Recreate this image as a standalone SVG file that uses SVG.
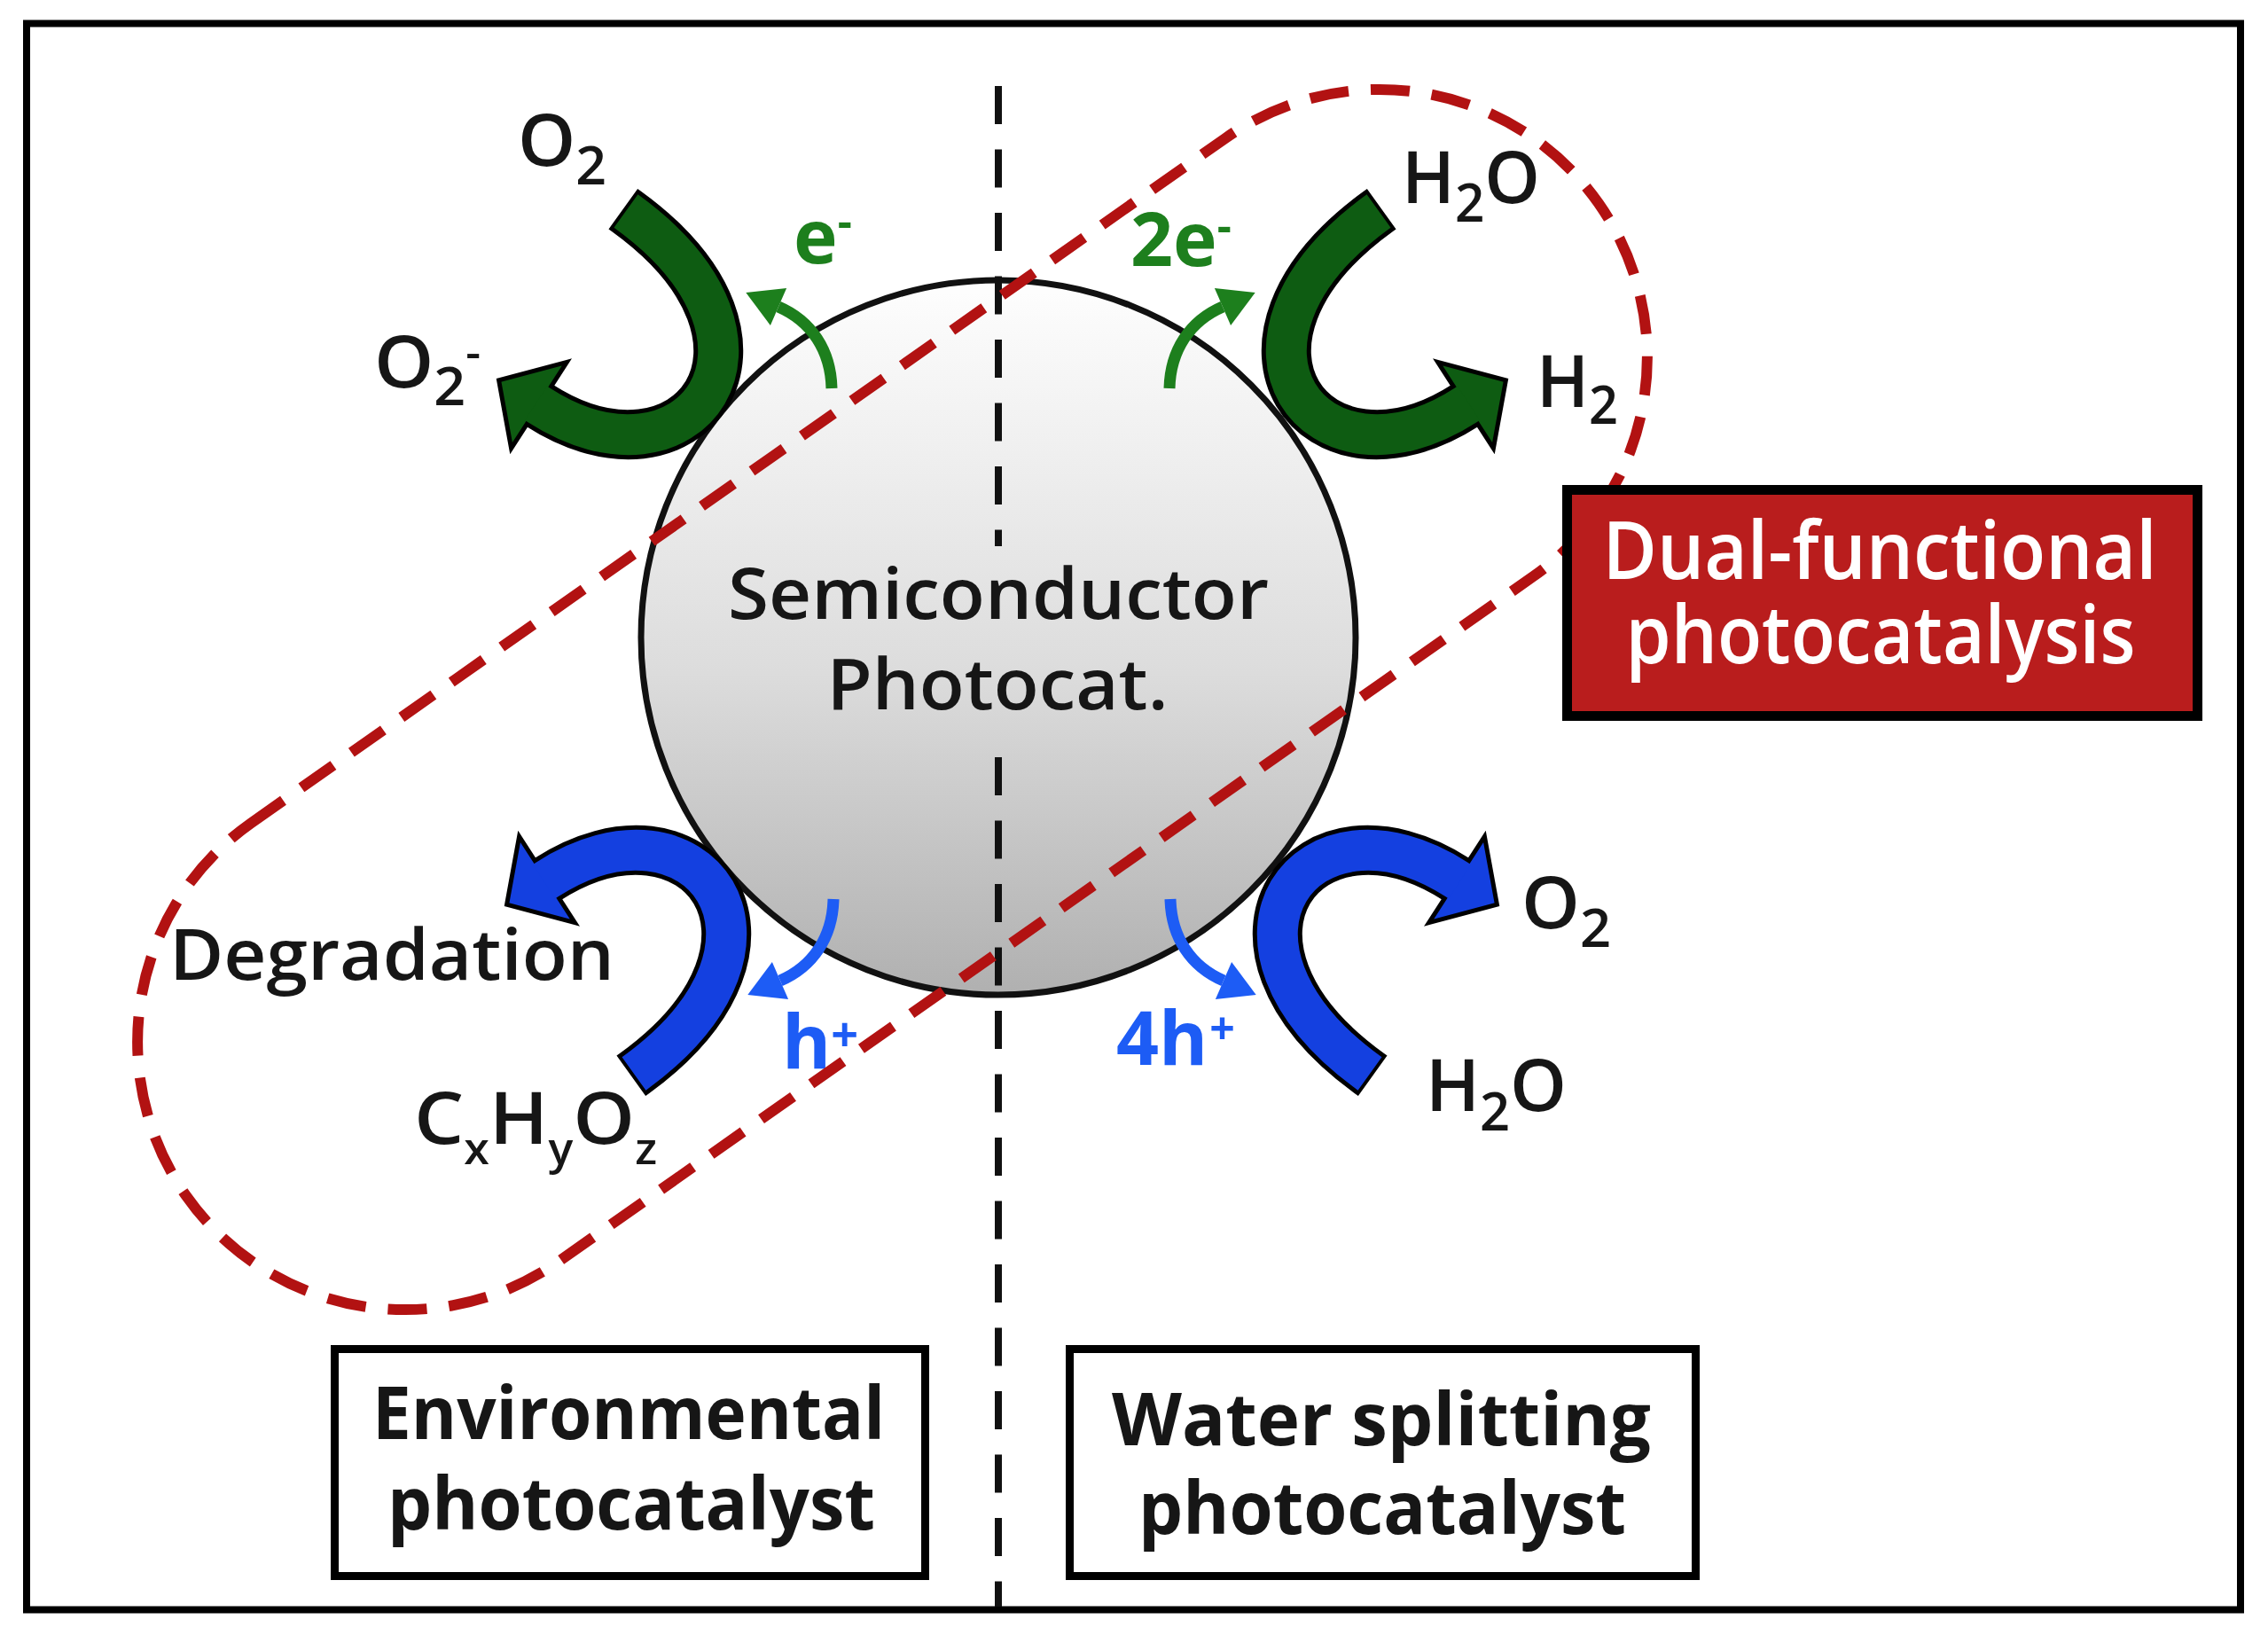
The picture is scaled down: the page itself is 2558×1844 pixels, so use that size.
<svg xmlns="http://www.w3.org/2000/svg" width="2558" height="1844" viewBox="0 0 2558 1844">
<style>
.t{font-family:"Open Sans","Noto Sans","Liberation Sans",sans-serif;fill:#161616}
.chem{font-weight:600;font-size:82px}
.sb{font-weight:600}
.bd{font-weight:700}
.eg{fill:#1d7f1d;font-weight:700;font-size:84px}
.hb{fill:#1d5cf5;font-weight:700;font-size:84px}
.box{fill:#fff;stroke:#000;stroke-width:9}
</style>
<defs>
<linearGradient id="sphere" x1="0" y1="0" x2="0" y2="1">
<stop offset="0" stop-color="#fefefe"/>
<stop offset="0.55" stop-color="#dcdcdc"/>
<stop offset="1" stop-color="#b0b0b0"/>
</linearGradient>
<g id="bigArrow">
<path d="M702.8,235.7 L706,238 C912.6,387.2 776,565 608,457" fill="none" stroke="#000" stroke-width="56"/>
<polygon points="639.4,408.3 562.6,428.9 576.6,505.7" fill="currentColor" stroke="#000" stroke-width="5"/>
<path d="M706,238 C912.6,387.2 776,565 608,457 L604.6,454.8" fill="none" stroke="currentColor" stroke-width="46"/>
</g>
<g id="smallArrow">
<path d="M938,438 C937,395 915,362 878,346" fill="none" stroke="currentColor" stroke-width="13"/>
<polygon points="887.1,324.9 841.3,330.1 868.9,367.1" fill="currentColor"/>
</g>
</defs>
<rect x="0" y="0" width="2558" height="1844" fill="#fff"/>
<rect id="frame" x="30" y="26.5" width="2497" height="1789" fill="none" stroke="#000" stroke-width="8"/>

<g id="semiconductor">
<circle cx="1126" cy="719" r="403" fill="url(#sphere)" stroke="#111" stroke-width="7"/>
</g>

<g id="divider" stroke="#111" stroke-width="8" stroke-dasharray="43 28.5">
<line x1="1126" y1="97" x2="1126" y2="616"/>
<line x1="1126" y1="854" x2="1126" y2="1812"/>
</g>

<g id="semiconductor-label">
<text class="t sb" font-size="80" x="1126" y="698" text-anchor="middle" textLength="610" lengthAdjust="spacingAndGlyphs">Semiconductor</text>
<text class="t sb" font-size="80" x="1125" y="800" text-anchor="middle" textLength="385" lengthAdjust="spacingAndGlyphs">Photocat.</text>
</g>

<g id="connectors">
<use href="#bigArrow" color="#0e5c12"/>
<use href="#bigArrow" color="#0e5c12" transform="translate(2261,0) scale(-1,1)"/>
<use href="#bigArrow" color="#1440e0" transform="translate(9,1449) scale(1,-1)"/>
<use href="#bigArrow" color="#1440e0" transform="translate(2251,1449) scale(-1,-1)"/>
<use href="#smallArrow" color="#1d7f1d"/>
<use href="#smallArrow" color="#1d7f1d" transform="translate(2257,0) scale(-1,1)"/>
<use href="#smallArrow" color="#1d5cf5" transform="translate(2,1452) scale(1,-1)"/>
<use href="#smallArrow" color="#1d5cf5" transform="translate(2258,1452) scale(-1,-1)"/>
</g>

<g id="label-o2-top">
<text class="t chem" x="584" y="187" textLength="100" lengthAdjust="spacingAndGlyphs">O<tspan font-size="60" dy="21">2</tspan></text>
</g>
<g id="label-o2-radical">
<text class="t chem" x="422" y="437" textLength="120" lengthAdjust="spacingAndGlyphs">O<tspan font-size="60" dy="20">2</tspan><tspan font-size="50" dy="-42">-</tspan></text>
</g>
<g id="label-h2o-top">
<text class="t chem" x="1581" y="229" textLength="156" lengthAdjust="spacingAndGlyphs">H<tspan font-size="60" dy="21">2</tspan><tspan dy="-21">O</tspan></text>
</g>
<g id="label-h2">
<text class="t chem" x="1733" y="459" textLength="92" lengthAdjust="spacingAndGlyphs">H<tspan font-size="60" dy="19">2</tspan></text>
</g>
<g id="label-degradation">
<text class="t sb" font-size="80" x="191" y="1105" textLength="502" lengthAdjust="spacingAndGlyphs">Degradation</text>
</g>
<g id="label-cxhyoz">
<text class="t chem" x="467" y="1290" textLength="274" lengthAdjust="spacingAndGlyphs">C<tspan font-size="48" dy="23">x</tspan><tspan dy="-23">H</tspan><tspan font-size="48" dy="23">y</tspan><tspan dy="-23">O</tspan><tspan font-size="48" dy="23">z</tspan></text>
</g>
<g id="label-o2-bottom">
<text class="t chem" x="1716" y="1047" textLength="101" lengthAdjust="spacingAndGlyphs">O<tspan font-size="60" dy="21">2</tspan></text>
</g>
<g id="label-h2o-bottom">
<text class="t chem" x="1608" y="1253" textLength="159" lengthAdjust="spacingAndGlyphs">H<tspan font-size="60" dy="22">2</tspan><tspan dy="-22">O</tspan></text>
</g>
<g id="label-e">
<text class="t eg" x="895" y="297">e<tspan font-size="50" dy="-30">-</tspan></text>
</g>
<g id="label-2e">
<text class="t eg" x="1275" y="300">2e<tspan font-size="50" dy="-28">-</tspan></text>
</g>
<g id="label-h">
<text class="t hb" x="882" y="1205">h<tspan font-size="54" dy="-19">+</tspan></text>
</g>
<g id="label-4h">
<text class="t hb" x="1259" y="1201">4h<tspan font-size="50" dx="2" dy="-23">+</tspan></text>
</g>

<g id="dual-functional-region">
<rect x="33" y="487" width="1947" height="604" rx="302" ry="302" transform="rotate(-35.1 1006.5 789)" fill="none" stroke="#b21212" stroke-width="12" stroke-dasharray="44 25"/>
</g>

<g id="dual-functional-box">
<rect x="1767.5" y="552.5" width="711" height="255" fill="#b91d1d" stroke="#000" stroke-width="11"/>
<text class="t sb" font-size="90" x="2120" y="653" text-anchor="middle" textLength="625" lengthAdjust="spacingAndGlyphs" style="fill:#fff">Dual-functional</text>
<text class="t sb" font-size="90" x="2121" y="748" text-anchor="middle" textLength="575" lengthAdjust="spacingAndGlyphs" style="fill:#fff">photocatalysis</text>
</g>

<g id="environmental-box">
<rect class="box" x="377.5" y="1521.5" width="666" height="256"/>
<text class="t bd" font-size="82" x="709" y="1623" text-anchor="middle" textLength="578" lengthAdjust="spacingAndGlyphs">Environmental</text>
<text class="t bd" font-size="82" x="712" y="1725" text-anchor="middle" textLength="550" lengthAdjust="spacingAndGlyphs">photocatalyst</text>
</g>

<g id="water-splitting-box">
<rect class="box" x="1206.5" y="1521.5" width="706" height="256"/>
<text class="t bd" font-size="82" x="1558" y="1630" text-anchor="middle" textLength="608" lengthAdjust="spacingAndGlyphs">Water splitting</text>
<text class="t bd" font-size="82" x="1559" y="1730" text-anchor="middle" textLength="550" lengthAdjust="spacingAndGlyphs">photocatalyst</text>
</g>
</svg>
